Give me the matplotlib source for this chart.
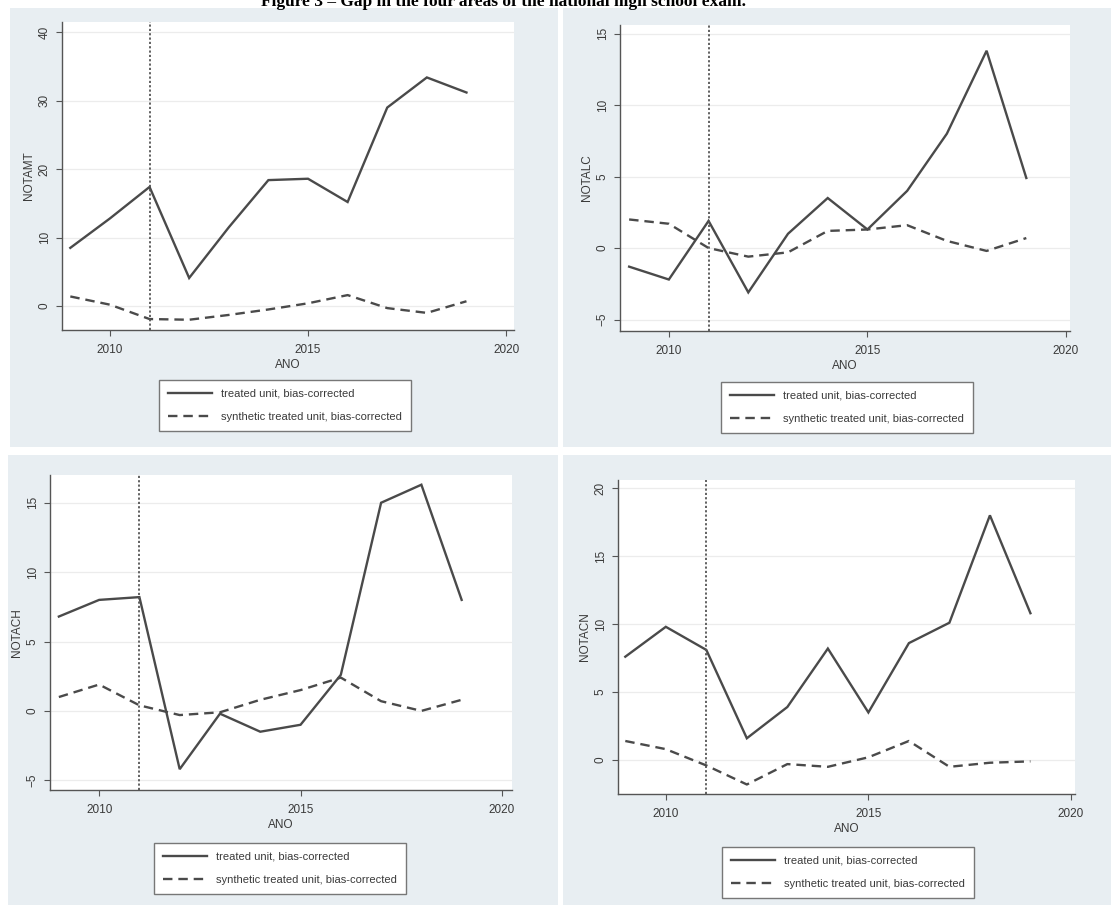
import matplotlib
matplotlib.use("Agg")
import matplotlib.pyplot as plt
from matplotlib.patches import Rectangle

plt.rcParams['font.family'] = ['Liberation Sans', 'DejaVu Sans']

W, H = 1111, 908

years = [2009, 2010, 2011, 2012, 2013, 2014, 2015, 2016, 2017, 2018, 2019]

# treated / synthetic gaps
mt_treated = [8.5, 12.8, 17.4, 4.1, 11.5, 18.4, 18.6, 15.2, 29.0, 33.4, 31.2]
mt_synth = [1.4, 0.2, -1.9, -2.0, -1.3, -0.5, 0.4, 1.6, -0.3, -1.0, 0.7]

lc_treated = [-1.3, -2.2, 1.9, -3.1, 1.0, 3.5, 1.3, 4.0, 8.0, 13.8, 4.9]
lc_synth = [2.0, 1.7, 0.0, -0.6, -0.3, 1.2, 1.3, 1.6, 0.5, -0.2, 0.7]

ch_treated = [6.8, 8.0, 8.2, -4.2, -0.2, -1.5, -1.0, 2.6, 15.0, 16.3, 8.0]
ch_synth = [1.0, 1.9, 0.4, -0.3, -0.1, 0.8, 1.5, 2.4, 0.7, 0.0, 0.8]

cn_treated = [7.6, 9.8, 8.1, 1.6, 3.9, 8.2, 3.5, 8.6, 10.1, 18.0, 10.8]
cn_synth = [1.4, 0.8, -0.4, -1.8, -0.3, -0.5, 0.2, 1.4, -0.5, -0.2, -0.1]

treat_year = 2011
xticks = [2010, 2015, 2020]
legend_labels = ['treated unit, bias-corrected', 'synthetic treated unit, bias-corrected']

BG = '#e8eef2'
LINE = '#4a4a4a'
TXT = '#3a3a3a'


def box(x0, y0, x1, y1):
    # pixel box -> figure fraction [left, bottom, width, height]
    return [x0 / W, 1 - y1 / H, (x1 - x0) / W, (y1 - y0) / H]


fig = plt.figure(figsize=(W / 100, H / 100), dpi=100)

fig.text(0.453, 1 - 1.5 / H, 'Figure 3 \u2013 Gap in the four areas of the national high school exam.',
         ha='center', va='center', fontsize=12.5, fontweight='bold',
         family=['Liberation Serif', 'DejaVu Serif'], color='black', zorder=5)

panels = [
    # bg box, axes box, xlim, ylim, yticks, label, data, legend center/top
    ((10, 8, 558, 447), (62, 22, 514, 330), (2008.79, 2020.2), (-3.5, 41.5),
     [0, 10, 20, 30, 40], 'NOTAMT', mt_treated, mt_synth, (285, 380)),
    ((563, 8, 1111, 447), (620, 25, 1070, 331), (2008.77, 2020.1), (-5.8, 15.6),
     [-5, 0, 5, 10, 15], 'NOTALC', lc_treated, lc_synth, (847, 382)),
    ((8, 455, 558, 905), (50, 475, 512, 790), (2008.78, 2020.25), (-5.7, 17.0),
     [-5, 0, 5, 10, 15], 'NOTACH', ch_treated, ch_synth, (280, 843)),
    ((563, 455, 1111, 905), (618, 480, 1075, 794), (2008.82, 2020.1), (-2.5, 20.6),
     [0, 5, 10, 15, 20], 'NOTACN', cn_treated, cn_synth, (848, 847)),
]

for bg, axb, xl, yl, yt, ylab, tr, sy, leg in panels:
    fig.patches.append(Rectangle((bg[0] / W, 1 - bg[3] / H), (bg[2] - bg[0]) / W,
                                 (bg[3] - bg[1]) / H, transform=fig.transFigure,
                                 facecolor=BG, edgecolor='none', zorder=-5))
    ax = fig.add_axes(box(*axb))
    ax.set_zorder(2)
    ax.set_facecolor('white')
    ax.set_xlim(*xl)
    ax.set_ylim(*yl)
    ax.set_xticks(xticks)
    ax.set_yticks(yt)
    ax.grid(axis='y', color='#ececec', lw=0.9)
    ax.set_axisbelow(True)
    for s in ['top', 'right']:
        ax.spines[s].set_visible(False)
    for s in ['left', 'bottom']:
        ax.spines[s].set_color('#555555')
        ax.spines[s].set_linewidth(1.0)
    ax.tick_params(colors='#555555', labelcolor=TXT, labelsize=8.5, length=4, width=0.8)
    ax.tick_params(axis='x', pad=6)
    ax.tick_params(axis='y', labelrotation=90, pad=4)
    for lab in ax.get_yticklabels():
        lab.set_va('center')

    l1, = ax.plot(years, tr, color=LINE, lw=1.7, solid_joinstyle='miter')
    l2, = ax.plot(years, sy, color=LINE, lw=1.7, ls=(0, (4, 2.5)))
    ax.axvline(treat_year, color='#555555', lw=1.3, ls=(0, (1.2, 1.2)))

    ax.set_xlabel('ANO', fontsize=8.5, color=TXT, labelpad=2)
    ax.set_ylabel(ylab, fontsize=8.5, color=TXT, labelpad=3)

    lg = fig.legend([l1, l2], legend_labels, loc='upper center',
                    bbox_to_anchor=(leg[0] / W, 1 - leg[1] / H), fontsize=8.0,
                    frameon=True, fancybox=False, edgecolor='#777777', framealpha=1,
                    handlelength=4.0, borderpad=0.8, labelspacing=1.15,
                    handletextpad=0.8, labelcolor=TXT, borderaxespad=0)
    lg.get_frame().set_linewidth(1.0)
    lg.set_zorder(3)

fig.savefig('out.png', dpi=100, facecolor='white')
